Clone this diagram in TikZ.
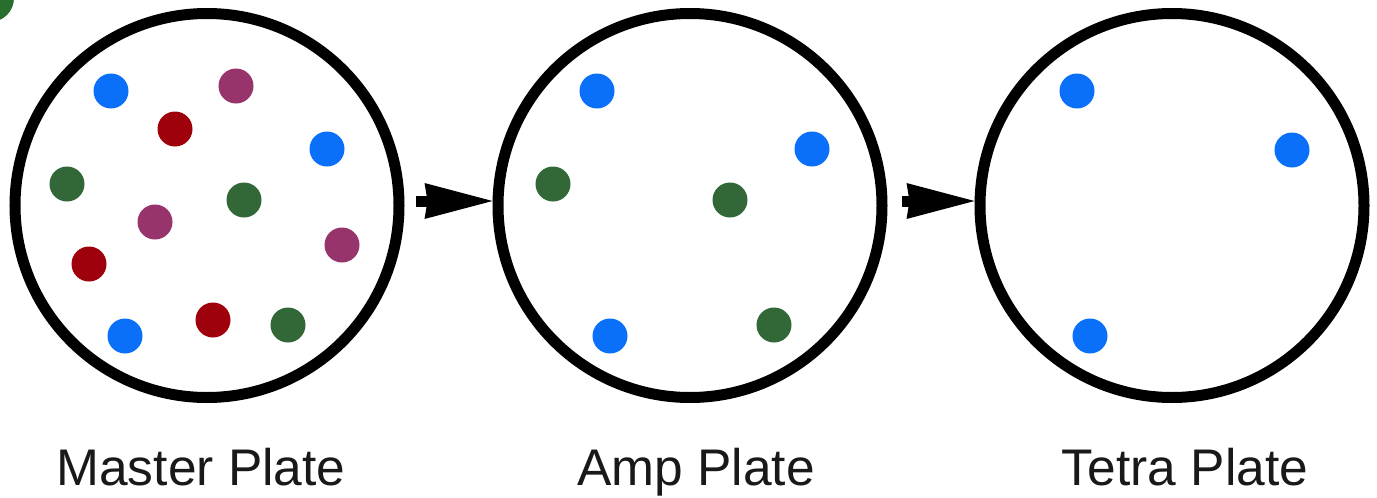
\documentclass[tikz,border=0pt]{standalone}
\usepackage{fontspec}
\setmainfont{Liberation Sans}
\usetikzlibrary{arrows.meta}
\definecolor{dotblue}{RGB}{10,112,250}
\definecolor{dotred}{RGB}{158,0,12}
\definecolor{dotpurple}{RGB}{152,52,108}
\definecolor{dotgreen}{RGB}{50,104,56}
\definecolor{badge}{RGB}{40,110,45}
\definecolor{labeltext}{RGB}{25,25,25}
\begin{document}
\begin{tikzpicture}[x=1pt,y=-1pt,
  plate/.style={circle,draw=black,line width=11pt,minimum size=384pt,inner sep=0pt,fill=white},
  blue dot/.style={fill=dotblue},
  red dot/.style={fill=dotred},
  purple dot/.style={fill=dotpurple},
  green dot/.style={fill=dotgreen},
  caption/.style={anchor=base,font=\fontsize{51.5}{55}\selectfont,text=labeltext,inner sep=0pt},
  flow/.style={line width=11pt,-{Stealth[length=68pt,width=36pt,inset=3pt,line width=0pt]}}]
\useasboundingbox (0,0) rectangle (1377,498);
\fill[white] (0,0) rectangle (1377,498);
% badge cut off at the corner
\begin{scope}
  \clip (0,0) rectangle (1377,498);
  \fill[badge] (-10,-2) circle (24);
\end{scope}
% the three plates
\node[plate] (master) at (207,205.5) {};
\node[plate] (amp) at (690,205.5) {};
\node[plate] (tetra) at (1172,205.5) {};
% colonies on the master plate
\fill[blue dot]   (111,91)  circle (17.5);
\fill[purple dot] (236,86)  circle (17.5);
\fill[red dot]    (175,129) circle (17.5);
\fill[blue dot]   (327,149) circle (17.5);
\fill[green dot]  (67,184)  circle (17.5);
\fill[green dot]  (244,200) circle (17.5);
\fill[purple dot] (155,222) circle (17.5);
\fill[purple dot] (342,245) circle (17.5);
\fill[red dot]    (89,264)  circle (17.5);
\fill[blue dot]   (125,336) circle (17.5);
\fill[red dot]    (213,320) circle (17.5);
\fill[green dot]  (288,325) circle (17.5);
% colonies on the amp plate
\fill[blue dot]   (597,91)  circle (17.5);
\fill[blue dot]   (812,149) circle (17.5);
\fill[green dot]  (553,184) circle (17.5);
\fill[green dot]  (730,200) circle (17.5);
\fill[blue dot]   (610,336) circle (17.5);
\fill[green dot]  (774,325) circle (17.5);
% colonies on the tetra plate
\fill[blue dot]   (1077,91)  circle (17.5);
\fill[blue dot]   (1292,150) circle (17.5);
\fill[blue dot]   (1090,336) circle (17.5);
% transfer arrows
\coordinate (s1) at (416,201);
\coordinate (s2) at (902,201);
\draw[flow] (s1) -- (amp.west |- s1);
\draw[flow] (s2) -- (tetra.west |- s2);
% captions
\node[caption] (lmaster) at (201,485) {Master Plate};
\node[caption] (lamp) at (696,485) {Amp Plate};
\node[caption] (ltetra) at (1185,485) {Tetra Plate};
\end{tikzpicture}
\end{document}
